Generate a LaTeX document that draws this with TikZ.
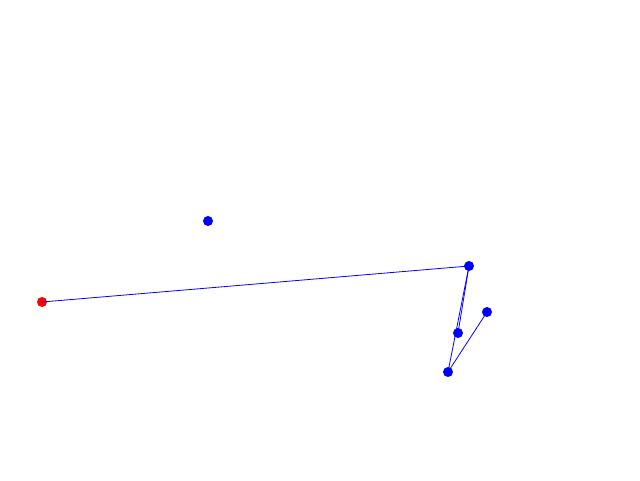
\documentclass[tikz,border=0pt]{standalone}
\usepackage{tikz}
\begin{document}
\begin{tikzpicture}[x=1pt,y=-1pt,
    pt/.style={circle,fill=blue,inner sep=0pt,minimum size=10pt},
    start/.style={pt,fill=red},
    link/.style={blue,line width=0.8pt}]
            \useasboundingbox (0,0) rectangle (640,480);

            \node[start] (s) at (42,302) {};
            \node[pt] (a) at (208,221) {};
            \node[pt] (b) at (469,266) {};
            \node[pt] (c) at (458,333) {};
            \node[pt] (d) at (448,372) {};
            \node[pt] (e) at (487,312) {};

            \draw[link] (s.center) -- (b.center);
            \draw[link] (b.center) -- (c.center);
            \draw[link] (b.center) -- (d.center);
            \draw[link] (d.center) -- (e.center);
        \end{tikzpicture}
\end{document}
